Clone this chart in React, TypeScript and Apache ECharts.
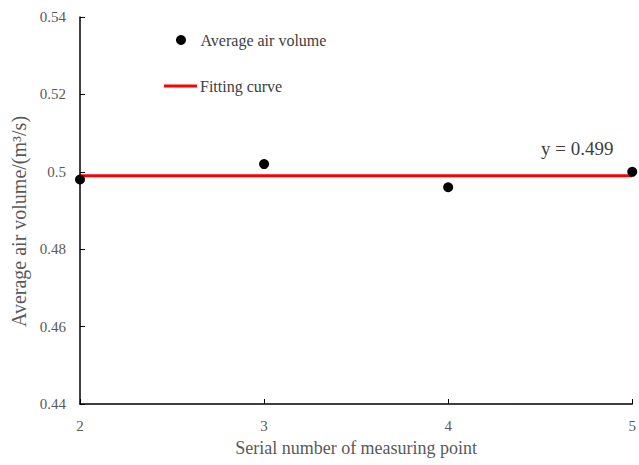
import React, { useEffect, useRef } from "react";
import * as echarts from "echarts";

const pointNumbers = [2, 3, 4, 5];
const airVolumes = [0.498, 0.502, 0.496, 0.5];
const fitValue = 0.499;
const fitRange = [2, 5];
const yTicks = { min: 0.44, max: 0.54, interval: 0.02 };

export default function App() {
  const ref = useRef<HTMLDivElement>(null);
  useEffect(() => {
    if (!ref.current) return;
    const chart = echarts.init(ref.current, undefined, { renderer: "svg" });
    const font = "Times New Roman";
    chart.setOption({
      animation: false,
      textStyle: { fontFamily: font },
      grid: { left: 80, top: 17, right: 3, bottom: 61, containLabel: false },
      legend: [
        {
          data: [{ name: "Average air volume", icon: "circle" }],
          left: 176,
          top: 32,
          padding: 0,
          itemWidth: 33,
          itemHeight: 10,
          textStyle: { fontFamily: font, fontSize: 16, color: "#404040", padding: [0, 0, 0, -2] },
        },
        {
          data: [{ name: "Fitting curve", icon: "rect" }],
          left: 164,
          top: 78,
          padding: 0,
          itemWidth: 33,
          itemHeight: 3,
          itemGap: 3,
          textStyle: { fontFamily: font, fontSize: 16, color: "#404040", padding: [0, 0, 0, -2] },
        },
      ],
      xAxis: {
        type: "value",
        min: 2,
        max: 5,
        interval: 1,
        name: "Serial number of measuring point",
        nameLocation: "middle",
        nameGap: 35,
        nameTextStyle: { fontFamily: font, fontSize: 18, color: "#595959" },
        axisLine: { lineStyle: { color: "#000", width: 1.5 } },
        axisTick: { inside: true, length: 5, lineStyle: { color: "#000" } },
        axisLabel: { fontFamily: font, fontSize: 15, color: "#595959", margin: 14 },
        splitLine: { show: false },
      },
      yAxis: {
        type: "value",
        min: yTicks.min,
        max: yTicks.max,
        interval: yTicks.interval,
        name: "Average air volume/(m³/s)",
        nameLocation: "middle",
        nameGap: 47,
        nameTextStyle: { fontFamily: font, fontSize: 20, color: "#595959", padding: [0, 22, 0, 0] },
        axisLine: { show: true, lineStyle: { color: "#000", width: 1.5 } },
        axisTick: { show: true, inside: true, length: 5, lineStyle: { color: "#000" } },
        axisLabel: { fontFamily: font, fontSize: 15, color: "#595959", margin: 14 },
        splitLine: { show: false },
      },
      series: [
        {
          name: "Fitting curve",
          type: "line",
          data: fitRange.map((x) => [x, fitValue]),
          symbol: "none",
          lineStyle: { color: "#ff0000", width: 3 },
          itemStyle: { color: "#ff0000" },
          z: 2,
        },
        {
          name: "Average air volume",
          type: "scatter",
          data: pointNumbers.map((x, i) => [x, airVolumes[i]]),
          symbolSize: 10,
          itemStyle: { color: "#000", opacity: 1 },
          clip: false,
          z: 3,
        },
      ],
      graphic: [
        {
          type: "text",
          left: 541,
          top: 139,
          style: { text: "y = 0.499", fontFamily: font, fontSize: 19, fill: "#404040" },
        },
      ],
    });
    return () => chart.dispose();
  }, []);
  return <div ref={ref} style={{ width: 639, height: 465, position: "absolute", left: 0, top: 0 }} />;
}
